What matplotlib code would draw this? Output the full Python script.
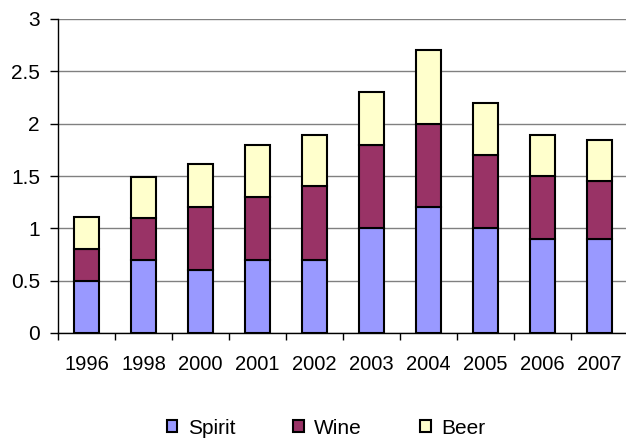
import matplotlib
matplotlib.use("Agg")
import matplotlib.pyplot as plt
import numpy as np
from matplotlib.patches import Patch

years = ["1996", "1998", "2000", "2001", "2002", "2003", "2004", "2005", "2006", "2007"]
spirit = [0.5, 0.7, 0.6, 0.7, 0.7, 1.0, 1.2, 1.0, 0.9, 0.9]
wine = [0.3, 0.4, 0.6, 0.6, 0.7, 0.8, 0.8, 0.7, 0.6, 0.55]
beer = [0.31, 0.39, 0.41, 0.5, 0.49, 0.5, 0.7, 0.5, 0.39, 0.39]

c_spirit = "#9999FF"
c_wine = "#993366"
c_beer = "#FFFFCC"

plt.rcParams['font.family'] = ['Liberation Sans', 'DejaVu Sans']

fig = plt.figure(figsize=(6.26, 4.41), dpi=100)
ax = fig.add_axes([58/626, (441-333)/441, (628-58)/626, (333-19)/441])

x = np.arange(len(years))
sp = np.array(spirit)
wi = np.array(wine)
be = np.array(beer)
w = 0.43
kw = dict(width=w, edgecolor="black", linewidth=1.5, zorder=3)
ax.bar(x, sp, color=c_spirit, **kw)
ax.bar(x, wi, bottom=sp, color=c_wine, **kw)
ax.bar(x, be, bottom=sp + wi, color=c_beer, **kw)

ax.set_xlim(-0.5, len(years) - 0.5)
ax.set_ylim(0, 3)
ax.set_yticks([0, 0.5, 1, 1.5, 2, 2.5, 3])
ax.set_yticklabels(["0", "0.5", "1", "1.5", "2", "2.5", "3"], fontsize=15)
ax.yaxis.grid(True, color="#808080", linewidth=1.0, zorder=0)
ax.set_axisbelow(True)

ax.set_xticks(x)
ax.set_xticklabels(years, fontsize=14.5)
ax.set_xticks(np.arange(-0.5, len(years)), minor=True)
ax.tick_params(axis="x", which="major", length=0, pad=16)
ax.tick_params(axis="x", which="minor", length=5, width=1, color="black")
ax.tick_params(axis="y", length=6, width=1, pad=7)

for s in ["top", "right"]:
    ax.spines[s].set_visible(False)
for s in ["left", "bottom"]:
    ax.spines[s].set_color("black")
    ax.spines[s].set_linewidth(1.0)

handles = [Patch(facecolor=c, edgecolor="black", linewidth=1.5) for c in (c_spirit, c_wine, c_beer)]
fig.legend(handles, ["Spirit", "Wine", "Beer"], loc="center", bbox_to_anchor=(326/626, 1 - 428/441),
           ncol=3, frameon=False, fontsize=15, handlelength=0.5, handleheight=0.5,
           handletextpad=0.5, columnspacing=2.8, borderpad=0.1)

fig.savefig("out.png", dpi=100)
